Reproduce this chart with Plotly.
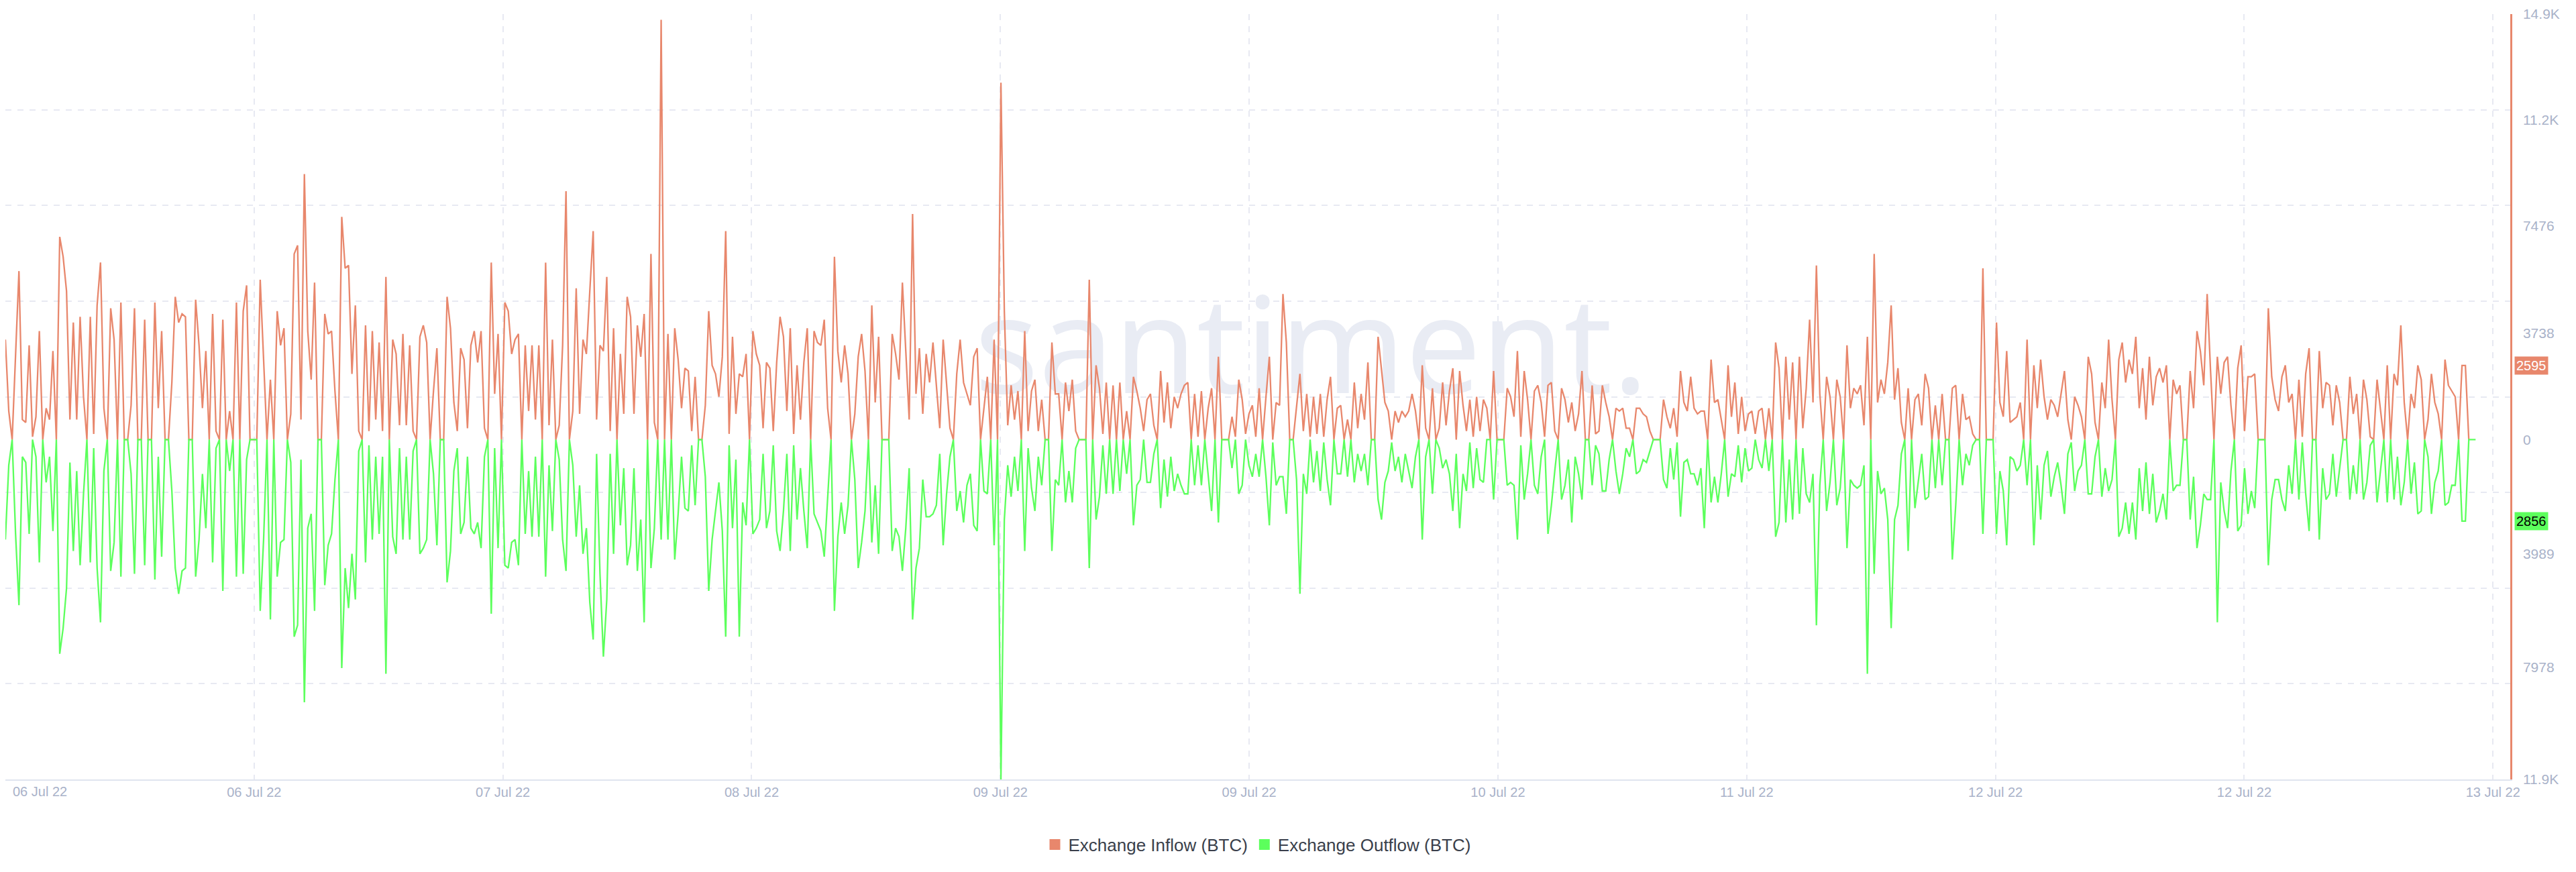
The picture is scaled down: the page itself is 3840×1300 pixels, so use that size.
import plotly.graph_objects as go

# Values in thousands of BTC, 15-minute samples
inflow_k_1 = [3.5,1.0,0,3.1,5.9,0.7,0.6,3.3,0.1,0.8,3.8,0,1.1,0.7,3.1,0,7.1,6.4,5.2,0.7,4.1,0.7,4.3,1.5,0,4.3,0.2,4.7,6.2,1.1,0,4.6,3.5,0,4.8,0,0,1.2,4.6,0,0,4.2,0,0,4.8,1.1,3.8,0,0,2.0,5.0,4.1,4.4,4.3,0,0,4.9,3.3,1.1,3.1,0,4.4,0.3,0,4.2,0,1.0,0,4.8,0,4.5,5.4,0,0,0,5.6,2.9,0,2.1,0,4.5,3.3,3.9,0,0.9,6.5,6.8,0.7,9.3,3.8,2.1,5.5,0,0,4.4,3.7,3.8,1.7,0,7.8,6.0,6.1,2.3,4.7,0.3,0,4.0,0.3,3.8,0.7,3.4,0.3,5.7,0,3.5,3.0,0.5,3.7,0.5,3.3,0.3,0,3.6,4.0,3.4,0,1.7,3.2,0,0,5.0,3.9,1.3,0.3,3.2,2.8,0.4,3.3,3.8,2.7,3.8,0.4,0,6.2,1.6,3.7,0,4.8]
inflow_k_2 = [4.5,3.0,3.5,3.7,0,3.3,1.0,3.3,0.7,3.3,0,6.2,0.5,3.5,0,0.5,3.3,8.7,0,1.0,5.3,0.9,3.5,3.0,5.2,7.3,0.7,3.3,3.1,5.7,0.3,3.9,0,3.0,0.9,5.0,4.3,0.9,4.0,2.9,4.4,0,6.5,0.6,0,14.7,0,3.7,0,3.9,2.8,1.1,2.5,2.4,0.3,2.2,0,0,1.2,4.5,2.6,2.3,1.5,2.9,7.3,0.2,3.6,0.9,2.3,2.2,3.0,0,3.8,3.0,2.6,0.4,2.7,2.5,0.3,2.7,4.3,3.6,1.0,3.9,0.2,2.6,0.7,2.7,3.9,0,3.8,3.4,3.3,4.2,1.1,0,6.4,3.1,2.0,3.3,2.3,0,0.9,2.9,3.7,2.4,0,4.7,1.3,3.6,0,0,0,3.7,3.0,2.1,5.5,3.1,0.7,7.9,1.6,3.2,0.9,3.0,2.0,3.4,2.0,0.4,3.5,2.0,0.4,0,2.3,3.5,2.0,1.6,1.2,2.9,3.2,0,1.1,2.2,0,3.5,0,12.5,4.5]
inflow_k_3 = [0.5,1.9,0.7,1.7,0,3.8,0.3,1.7,2.1,0.3,1.4,0,0,3.4,1.6,1.6,0,2.0,1.0,2.1,0.3,0,0,0,5.6,0,2.6,1.8,0.2,2.0,0,1.9,0,2.0,0,1.0,0,2.2,1.7,1.1,0.3,1.4,1.6,0.5,0,2.4,0.6,2.0,0.4,1.5,1.1,1.6,1.9,2.0,0,1.6,0.1,1.7,0,1.1,1.8,0,2.9,0,0,0,0.8,0.1,2.1,1.4,0.2,0.9,1.2,0.1,1.8,0,1.5,2.9,0,1.3,1.2,5.1,3.4,0,0,1.1,2.3,0.3,1.6,0.1,1.5,0.2,1.6,0.1,1.4,2.2,0,1.1,1.2,0,0.7,0,2.0,0.4,1.6,0.7,2.7,0,0,3.6,2.5,1.3,1.0,0,1.0,0.6,1.0,0.8,1.0,1.6,1.0,0,2.6,0.4,0,1.8,0,0.4,2.0,0.5,1.7,2.5,0,2.4,1.2,0.3,1.4,0.1,1.5,0.3,1.4,1.1,0,2.4,0,0,0,1.8]
inflow_k_4 = [1.5,0.8,3.1,0.1,2.4,1.4,0,1.7,1.9,1.3,0.1,1.9,2.0,0.3,0,1.8,1.4,0.6,1.3,0.3,0.9,2.4,0,0,1.9,0.2,0.3,1.9,1.3,0.8,0,1.1,1.0,1.1,0.4,0.4,0,1.1,1.1,0.9,0.8,0.3,0,0,0,1.4,0.8,0.4,1.1,0.1,2.4,1.3,1.0,2.2,1.1,0.9,1.0,1.0,0,2.8,1.3,1.4,0.7,0,2.6,0.8,2.0,0.2,1.5,0.3,0.9,1.0,0.2,1.0,1.1,0,1.1,0,3.4,2.5,0,2.9,0.7,2.7,0,2.9,0.4,1.8,4.2,1.3,6.1,1.6,0,2.2,1.5,0,2.1,1.5,0,3.3,1.1,1.8,1.6,1.9,0.5,3.6,0,6.5,1.3,2.1,1.6,2.7,4.7,1.4,2.5,0.6,0,1.8,0,1.4,1.6,0.5,2.3,1.8,0,1.2,0,1.6,0,0,1.8,1.9,0,1.6,0.7,0.8,0.2,0,0,6.0,0,0,0,4.1,1.3,0.8,3.1,0.6]
inflow_k_5 = [0.7,0.8,1.3,0,3.5,0,2.6,1.1,2.8,1.5,0.7,1.4,1.2,0.8,1.6,2.4,0.7,0,1.5,1.2,0.8,0,2.9,2.3,0.6,0,2.0,1.1,3.5,1.4,0,2.8,3.4,2.0,2.8,2.3,3.6,1.1,2.5,0.7,2.9,1.2,2.2,2.5,2.0,2.6,0,2.1,1.6,1.9,0,0,2.4,1.1,3.8,3.1,1.9,5.1,2.4,0,2.9,1.6,2.7,2.9,1.2,0,2.5,3.3,0.3,2.2,2.2,2.3,0,0,0,4.6,2.2,1.4,1.0,2.2,2.6,1.3,1.6,0,2.1,0.1,2.3,3.2,0,0,3.1,1.1,2.0,1.9,0.5,1.9,1.3,0,0,2.2,0.9,1.6,0,2.1,1.4,0.1,0,2.1,1.1,0,2.6,0,2.3,1.9,4.0,1.3,0,1.6,1.1,2.6,2.1,0,0.7,2.3,1.3,0.9,0,2.8,1.9,1.7,1.5,0,2.595,2.595,0]

outflow_k_1 = [3.5,0.9,0,3.3,5.8,0.6,0.8,3.3,0,0.6,4.3,0,1.5,0.6,3.2,0,7.5,6.6,5.2,0.8,3.9,1.1,4.4,1.9,0,4.3,0.3,4.5,6.4,1.1,0,4.6,3.6,0,4.8,0,0,1.2,4.7,0,0,4.4,0,0,4.9,0.6,4.1,0,0,1.8,4.5,5.4,4.6,4.5,0,0,4.8,3.5,1.2,3.1,0,4.3,0.3,0,5.3,0,1.1,0,4.8,0,4.7,0.7,0,0,0,6.0,3.5,0,6.3,0,4.8,3.6,3.5,0,0.8,6.9,6.5,0.7,9.2,3.1,2.6,6.0,0,0,5.1,3.7,3.3,1.4,0,8.0,4.5,5.9,4.0,5.6,0.4,0,4.3,0.2,3.5,0.6,3.3,0.6,8.2,0,3.4,4.0,0.3,3.5,0.6,3.5,0.4,0,4.0,3.8,3.5,0,1.2,3.7,0,0,5.0,3.9,1.1,0.3,3.3,2.9,0.6,3.1,3.3,2.9,3.8,0.6,0,6.1,0.3,3.8,0,4.4]
outflow_k_2 = [4.5,3.6,3.5,4.4,0,3.3,1.1,3.4,0.6,3.4,0,4.8,0.9,3.2,0,0.7,3.5,4.6,0,0.9,3.4,1.6,4.0,3.1,5.7,7.0,0.5,4.7,7.6,5.6,0.5,4.0,0,3.0,1.0,4.4,3.7,1.0,4.6,2.8,6.4,0,4.5,3.1,0,3.5,0,3.5,0,4.2,2.6,0.6,2.4,2.5,0.2,2.3,0,0,1.3,5.3,3.5,2.5,1.5,3.2,6.9,0.2,3.1,0.7,6.9,2.2,3.0,0,3.3,3.1,2.8,0.5,3.1,2.5,0.2,3.2,3.9,2.5,0.5,3.9,0.2,2.8,1.0,2.5,3.8,0,2.6,2.9,3.2,4.1,2.1,0,6.0,3.4,2.2,3.3,2.3,0,1.4,4.5,3.6,2.5,0,3.6,1.6,4.0,0,0,0,3.9,3.1,3.4,4.6,3.1,1.0,6.3,4.5,3.8,1.4,2.7,2.7,2.6,2.3,0.5,3.7,1.9,0.6,0,2.5,1.8,2.9,1.6,1.2,3.0,3.2,0,1.8,1.9,0,3.7,0,11.9,2.8]
outflow_k_3 = [0.9,2.0,0.6,1.8,0,3.9,0.3,1.7,2.5,0.6,1.6,0,0,3.9,1.4,1.6,0,2.2,1.1,2.2,0.3,0,0,0,4.5,0,2.8,2.0,0.2,1.9,0,1.9,0,1.8,0,1.2,0,3.0,1.6,1.4,0.0,1.5,1.5,0.5,0,2.4,0.7,2.0,0.6,1.8,1.2,1.6,1.9,1.9,0,1.6,0.2,1.6,0,1.2,2.5,0,2.9,0,0,0,1.0,0,1.9,1.6,0,0.9,1.3,0.5,1.3,0,1.3,3.0,0.1,1.6,1.3,1.3,2.6,0,0,1.4,5.4,1.2,1.9,0,1.5,0.4,1.8,0.1,1.4,2.3,0,1.2,1.2,0,1.3,0,1.5,0.5,1.1,0.5,1.6,0,0,2.1,2.8,1.5,1.1,0.1,1.1,0.6,1.5,0.5,1.1,1.7,0.6,0,3.5,0.6,0,1.9,0,0.3,1.0,0.7,1.2,2.5,0.5,3.1,1.2,1.8,0.1,1.7,0.3,1.4,1.5,0,0,2.1,0,0,0,1.6]
outflow_k_4 = [1.5,1.6,3.5,0.2,2.1,1.2,0,1.6,1.9,0.6,0,3.3,2.3,1.1,0,2.1,1.6,0.7,2.9,0.6,1.2,2.1,0,0,1.6,0.2,0.5,1.8,1.8,0.7,0,1.1,1.9,1.2,0.3,0.6,0,1.2,1.1,0.7,0.8,0.4,0,0,0,1.4,1.7,0.3,1.4,0.1,2.7,0.8,0.7,1.2,1.2,1.6,1.0,3.1,0,2.2,1.3,2.2,1.2,0,2.0,1.2,1.3,0.2,1.5,0.3,1.1,1.0,0,0.7,1.0,0,1.1,0,3.4,2.9,0,2.9,0.7,2.8,0,2.6,0.3,1.9,2.2,1.2,6.5,1.6,0,2.5,1.5,0,2.3,1.7,0,3.8,1.4,1.6,1.7,1.6,0.9,8.2,0,4.7,1.1,1.9,1.7,2.8,6.6,2.8,2.3,0.5,0,3.9,0,2.4,1.5,0.5,2.1,2.0,0,1.7,0,1.6,0,0,4.2,2.3,0,1.6,0.5,0.9,0.2,0,0,3.3,0,0,0,3.3,1.1,1.8,3.7,0.6]
outflow_k_5 = [0.7,1.1,0.9,0,1.6,0,3.7,0.9,2.8,0.9,0.4,2.0,1.3,0.8,1.6,2.6,0.5,0.1,1.8,1.1,0.9,0,1.9,1.9,0.6,0,2.0,1.0,1.8,1.4,0,3.4,3.1,2.2,3.3,2.2,3.5,1.0,2.5,0.8,2.6,1.2,2.9,2.5,1.9,2.8,0,1.8,1.6,1.6,0,0,2.8,1.3,3.8,3.0,1.9,2.1,2.1,0,6.4,1.5,2.5,3.1,1.1,0,3.2,3.0,1.0,2.6,1.8,2.4,0,0,0,4.4,2.1,1.4,1.4,2.1,2.5,0.9,1.9,0,2.1,0.1,1.9,3.2,0,0,3.5,1.0,2.1,1.9,0.5,2.0,1.0,0,0,2.1,0.9,1.9,0,2.1,1.5,0.2,0,2.2,1.1,0,2.2,0,2.1,0.6,2.3,1.5,0,1.9,0.8,2.6,2.5,0,0.6,2.6,1.5,1.1,0,2.3,2.2,1.6,1.6,0,2.856,2.856,0,0,0]

x_ticktext = ["06 Jul 22", "06 Jul 22", "07 Jul 22", "08 Jul 22", "09 Jul 22", "09 Jul 22",
              "10 Jul 22", "11 Jul 22", "12 Jul 22", "12 Jul 22", "13 Jul 22"]
y_tickvals = [14900, 11200, 7476, 3738, 0, -3989, -7978, -11900]
y_ticktext = ["14.9K", "11.2K", "7476", "3738", "0", "3989", "7978", "11.9K"]
last_inflow, last_outflow = 2595, 2856

inflow = [v * 1000 for v in inflow_k_1 + inflow_k_2 + inflow_k_3 + inflow_k_4 + inflow_k_5]
outflow = [v * 1000 for v in outflow_k_1 + outflow_k_2 + outflow_k_3 + outflow_k_4 + outflow_k_5]

# sample spacing in tick units (72 samples per 18h tick interval)
step = 713.0 / (len(inflow) - 1)
x_in = [i * step for i in range(len(inflow))]
x_out = [i * step for i in range(len(outflow))]

RED = "#e8876c"
GREEN = "#5cff5c"
TICK = "#a9b2c9"
GRID = "#e7e9f2"

fig = go.Figure()
fig.add_trace(go.Scatter(x=[378], y=[2800], mode="text", text=["santiment."],
                         textfont=dict(size=200, color="#e9ecf4", family="Noto Sans"),
                         hoverinfo="skip", showlegend=False))
fig.add_trace(go.Scatter(x=x_in, y=inflow, mode="lines",
                         line=dict(color=RED, width=2.3), showlegend=False))
fig.add_trace(go.Scatter(x=x_out, y=[-v for v in outflow], mode="lines",
                         line=dict(color=GREEN, width=2.3), showlegend=False))
for name, c in [("Exchange Inflow (BTC)", RED), ("Exchange Outflow (BTC)", GREEN)]:
    fig.add_trace(go.Scatter(x=[None], y=[None], mode="markers", name=name,
                             marker=dict(symbol="square", size=18, color=c)))

tt = list(x_ticktext)
tt[0] = ""
fig.update_layout(
    width=3840, height=1300, plot_bgcolor="white", paper_bgcolor="white",
    margin=dict(l=0, r=106, t=13, b=146, autoexpand=False),
    font=dict(family="Liberation Sans", color=TICK),
    xaxis=dict(range=[0, 725], tickmode="array", tickvals=[72 * i for i in range(11)], ticktext=tt,
               showgrid=True, gridcolor=GRID, griddash="dash", gridwidth=1.5,
               zeroline=False, showline=True, linecolor="#e0e4ef", linewidth=2,
               automargin=False,
               tickfont=dict(size=20, color=TICK, family="Liberation Sans"), ticks=""),
    yaxis=dict(range=[-11900, 14900], side="right", tickmode="array", tickvals=y_tickvals,
               ticktext=y_ticktext, showgrid=False, zeroline=False, showline=True,
               linecolor=RED, linewidth=2.5, ticks="", ticklabelstandoff=12, automargin=False,
               tickfont=dict(size=21, color=TICK),
               minor=dict(tick0=-11900, dtick=3350, showgrid=True, gridcolor=GRID,
                          griddash="dash", gridwidth=1.5, ticks="")),
    legend=dict(orientation="h", x=0.5, xanchor="center", y=-0.085, yanchor="middle",
                font=dict(size=26, color="#3a3f4b"), itemwidth=30),
    showlegend=True,
)
fig.add_annotation(xref="paper", yref="paper", x=0, y=0, xshift=9, yshift=-5,
                   xanchor="left", yanchor="top", text=x_ticktext[0], showarrow=False,
                   font=dict(size=20, color=TICK, family="Liberation Sans"))
fig.add_annotation(xref="paper", x=1, xshift=6, xanchor="left", y=last_inflow, yref="y",
                   text=str(last_inflow), showarrow=False, bgcolor=RED,
                   font=dict(size=20, color="white"), borderpad=2)
fig.add_annotation(xref="paper", x=1, xshift=6, xanchor="left", y=-last_outflow, yref="y",
                   text=str(last_outflow), showarrow=False, bgcolor=GREEN,
                   font=dict(size=20, color="black"), borderpad=2)

fig.write_html("out.html")
